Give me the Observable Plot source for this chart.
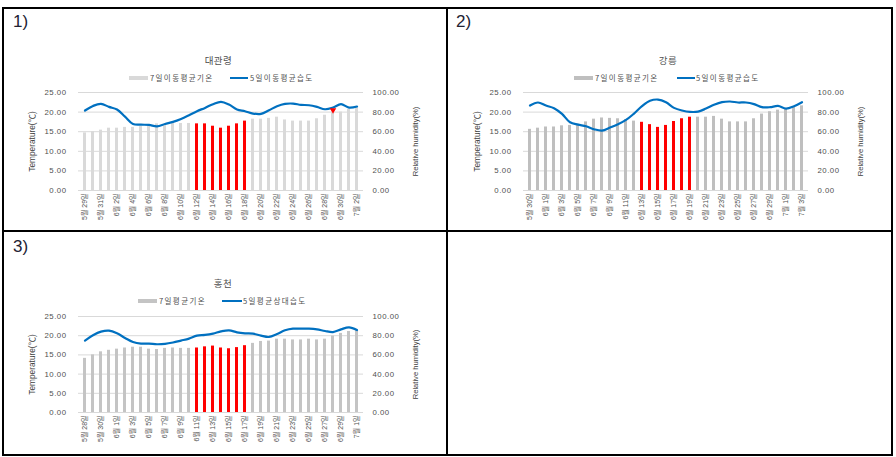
<!DOCTYPE html>
<html><head><meta charset="utf-8">
<script src="https://cdn.jsdelivr.net/npm/d3@7"></script>
<script src="https://cdn.jsdelivr.net/npm/@observablehq/plot@0.6"></script>
<style>
body{margin:0;background:#fff}
#root{position:relative;width:896px;height:457px;overflow:hidden;font-family:"Liberation Sans","Noto Sans CJK KR",sans-serif}
.ln{position:absolute;background:#000}
.abs{position:absolute;white-space:nowrap;line-height:1}
.pl{font-size:17px;color:#222233;font-family:"Liberation Sans",sans-serif}
.ttl{font-family:"Noto Sans CJK KR",sans-serif;font-size:9.5px;color:#505050;letter-spacing:0.5px;transform:translate(-50%,-50%)}
.lg{font-family:"Noto Sans CJK KR",sans-serif;font-size:7.5px;color:#505050;letter-spacing:1.4px;transform:translateY(-50%)}
.sw{position:absolute}
.wrap{position:absolute}
.wrap svg{overflow:visible}
g[aria-label="y-axis tick label"] text{letter-spacing:0.5px}
</style></head>
<body><div id="root"></div>
<script>
// ---------- data ----------
const dates1 = ["5월 29일","5월 30일","5월 31일","6월 1일","6월 2일","6월 3일","6월 4일","6월 5일","6월 6일","6월 7일","6월 8일","6월 9일","6월 10일","6월 11일","6월 12일","6월 13일","6월 14일","6월 15일","6월 16일","6월 17일","6월 18일","6월 19일","6월 20일","6월 21일","6월 22일","6월 23일","6월 24일","6월 25일","6월 26일","6월 27일","6월 28일","6월 29일","6월 30일","7월 1일","7월 2일"];
const temp1 = [14.7,15.0,15.4,15.9,15.9,16.1,16.1,16.3,16.6,17.0,16.9,17.2,17.1,17.1,17.0,17.0,16.4,15.9,16.4,17.0,17.7,18.2,18.2,18.4,18.7,18.0,17.7,17.7,17.7,18.3,19.2,20.0,20.0,20.7,21.1];
const hum1 = [81.6,86.3,88.4,85.3,82.6,75.4,67.9,67.2,66.9,65.5,67.9,70.0,73.0,76.8,80.9,84.3,88.1,90.5,87.7,82.6,80.9,78.5,78.2,81.9,86.0,88.4,88.7,87.4,87.0,85.3,82.9,84.6,88.1,84.6,85.7];
const red1 = ["6월 12일","6월 13일","6월 14일","6월 15일","6월 16일","6월 17일","6월 18일"];
const marker1 = [{date:"6월 29일", h:82}];

const dates2 = ["5월 30일","5월 31일","6월 1일","6월 2일","6월 3일","6월 4일","6월 5일","6월 6일","6월 7일","6월 8일","6월 9일","6월 10일","6월 11일","6월 12일","6월 13일","6월 14일","6월 15일","6월 16일","6월 17일","6월 18일","6월 19일","6월 20일","6월 21일","6월 22일","6월 23일","6월 24일","6월 25일","6월 26일","6월 27일","6월 28일","6월 29일","6월 30일","7월 1일","7월 2일","7월 3일"];
const temp2 = [15.6,15.9,16.2,16.2,16.5,16.6,16.9,17.5,18.2,18.5,18.4,18.3,18.1,17.7,17.4,16.8,16.1,16.6,17.6,18.3,18.7,18.7,18.7,18.9,18.2,17.5,17.5,17.5,18.3,19.5,20.1,20.5,20.8,21.2,21.6];
const hum2 = [86.7,89.8,86.7,84.0,78.2,69.6,67.2,65.5,62.5,61.1,64.2,67.6,72.0,78.5,86.0,91.5,92.8,90.1,84.3,81.6,80.2,80.5,83.6,87.4,90.1,90.8,89.8,89.8,88.1,85.0,85.0,86.3,83.6,86.0,90.1];
const red2 = ["6월 13일","6월 14일","6월 15일","6월 16일","6월 17일","6월 18일","6월 19일"];

const dates3 = ["5월 28일","5월 29일","5월 30일","5월 31일","6월 1일","6월 2일","6월 3일","6월 4일","6월 5일","6월 6일","6월 7일","6월 8일","6월 9일","6월 10일","6월 11일","6월 12일","6월 13일","6월 14일","6월 15일","6월 16일","6월 17일","6월 18일","6월 19일","6월 20일","6월 21일","6월 22일","6월 23일","6월 24일","6월 25일","6월 26일","6월 27일","6월 28일","6월 29일","6월 30일","7월 1일"];
const temp3 = [14.1,15.0,15.8,16.2,16.5,16.8,17.0,17.0,16.5,16.4,16.7,16.8,16.7,16.7,16.8,17.1,17.3,16.8,16.6,16.9,17.4,18.0,18.5,18.6,19.1,19.1,18.9,18.9,19.1,18.9,19.1,19.9,20.6,21.1,21.4];
const hum3 = [74.9,80.4,84.2,85.2,82.5,77.7,73.5,71.8,71.8,71.1,71.5,72.9,74.9,77.0,80.1,80.8,82.2,84.5,85.6,83.5,82.5,82.2,80.1,78.7,81.8,85.6,87.3,87.3,87.3,86.6,84.9,83.8,86.6,88.7,85.9];
const red3 = ["6월 11일","6월 12일","6월 13일","6월 14일","6월 15일","6월 16일","6월 17일"];

const yTicks = [0,5,10,15,20,25];
const titles = ["대관령","강릉","홍천"];
const legendBar = ["7일이동평균기온","7일이동평균기온","7일평균기온"];
const legendLine = ["5일이동평균습도","5일이동평균습도","5일평균상대습도"];
const yTitleL = "Temperature(℃)";
const yTitleR = "Relative humidity(%)";

// ---------- drawing ----------
const root = document.getElementById("root");
function add(cls, css, text){
  const e = document.createElement("div");
  e.className = cls; Object.assign(e.style, css);
  if (text != null) e.textContent = text;
  root.appendChild(e); return e;
}
// table borders
[[2,7,891,2],[2,230,891,2],[2,454,891,2]].forEach(([x,y,w,h])=>add("ln",{left:x+"px",top:y+"px",width:w+"px",height:h+"px"}));
[[2,7,2,449],[446,7,2,449],[891,7,2,449]].forEach(([x,y,w,h])=>add("ln",{left:x+"px",top:y+"px",width:w+"px",height:h+"px"}));

function chart(o){
  const data = o.dates.map((d,i)=>({date:d, t:o.temp[i], h:o.hum[i], red:o.red.includes(d)}));
  const marks = [
    Plot.ruleY(yTicks, {stroke:"#d9d9d9", strokeWidth:1}),
    Plot.barY(data, {x:"date", y:"t", fill: d => d.red ? "#ff0000" : o.bar}),
    Plot.line(data, {x:"date", y: d => d.h/4, stroke:"#0070c0", strokeWidth:2.2, curve:"catmull-rom"}),
    Plot.axisY(yTicks, {anchor:"left", tickSize:0, tickPadding:12, tickFormat: d => d.toFixed(2), fontSize:7.8, fill:"#505050", label:null}),
    Plot.axisY(yTicks, {anchor:"right", tickSize:0, tickPadding:9, tickFormat: d => (d*4).toFixed(2), fontSize:7.8, fill:"#505050", label:null}),
    Plot.axisX(o.dates.filter((d,i)=> i%2===0), {tickSize:0, tickPadding:3, tickRotate:-90, fontSize:7, fill:"#505050", label:null}),
    Plot.text([yTitleL], {frameAnchor:"left", dx:-46, rotate:-90, textAnchor:"middle", fontSize:8.3, fill:"#404040"}),
    Plot.text([yTitleR], {frameAnchor:"right", dx:52, rotate:-90, textAnchor:"middle", fontSize:7.6, fill:"#404040"})
  ];
  if (o.marker) marks.push(Plot.dot(o.marker, {x:"date", y: d => d.h/4, symbol:"triangle", rotate:180, r:2.4, fill:"#ff0000", stroke:"none"}));
  return Plot.plot({
    width:o.w, height:o.h,
    marginLeft:o.ml, marginRight:o.mr, marginTop:o.mt, marginBottom:o.mb,
    x:{type:"band", domain:o.dates, paddingInner:0.65, paddingOuter:0.325},
    y:{domain:[0,25]},
    style:{background:"transparent", color:"#505050", fontFamily:"Liberation Sans, Noto Sans CJK KR, sans-serif", overflow:"visible"},
    marks
  });
}

const panels = [
  {px:0, py:0, label:"1)", lx:13, ly:13, tcx:218.5, tcy:61, ly2:78,
   sw:[129,148], tx1:150, ln:[230,248], tx2:250, bar:"#d9d9d9",
   sx:0, sy:84, w:446, h:146, ml:78, mr:83, mt:8, mb:40,
   dates:dates1, temp:temp1, hum:hum1, red:red1, marker:marker1},
  {px:448, py:0, label:"2)", lx:456, ly:13, tcx:668, tcy:61, ly2:78,
   sw:[574,593], tx1:595, ln:[677,695], tx2:696, bar:"#bfbfbf",
   sx:448, sy:84, w:443, h:146, ml:75, mr:83, mt:8, mb:40,
   dates:dates2, temp:temp2, hum:hum2, red:red2},
  {px:0, py:230, label:"3)", lx:13, ly:238, tcx:223, tcy:284, ly2:301,
   sw:[138,157], tx1:159, ln:[222,242], tx2:243, bar:"#c4c4c4",
   sx:0, sy:306, w:446, h:144, ml:78, mr:83, mt:10, mb:38,
   dates:dates3, temp:temp3, hum:hum3, red:red3}
];

panels.forEach((p,i)=>{
  add("abs pl",{left:p.lx+"px", top:p.ly+"px"}, p.label);
  add("abs ttl",{left:p.tcx+"px", top:p.tcy+"px"}, titles[i]);
  add("sw",{left:p.sw[0]+"px", top:(p.ly2-2)+"px", width:(p.sw[1]-p.sw[0])+"px", height:"4px", background:p.bar});
  add("abs lg",{left:p.tx1+"px", top:p.ly2+"px"}, legendBar[i]);
  add("sw",{left:p.ln[0]+"px", top:(p.ly2-1)+"px", width:(p.ln[1]-p.ln[0])+"px", height:"2px", background:"#0070c0"});
  add("abs lg",{left:p.tx2+"px", top:p.ly2+"px"}, legendLine[i]);
  const wrap = add("wrap",{left:p.sx+"px", top:p.sy+"px", width:p.w+"px", height:p.h+"px"});
  wrap.appendChild(chart(p));
});
</script>
</body></html>
